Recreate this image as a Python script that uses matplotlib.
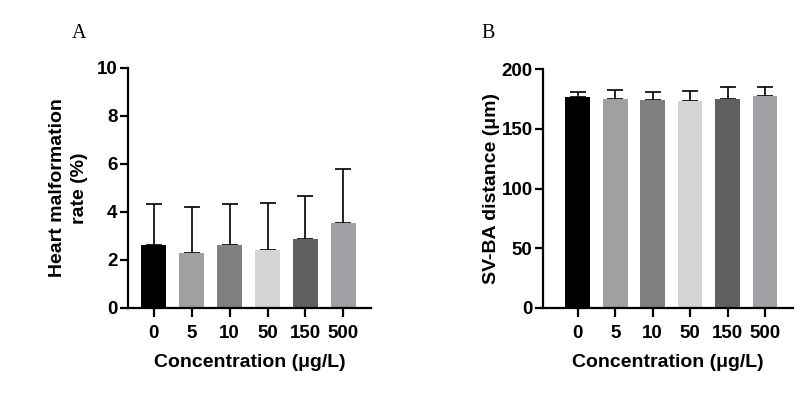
import matplotlib
matplotlib.use("Agg")
import matplotlib.pyplot as plt
import numpy as np

plt.rcParams['font.family'] = ['Liberation Sans', 'DejaVu Sans']

categories = ["0", "5", "10", "50", "150", "500"]
malform_mean = [2.63, 2.30, 2.63, 2.42, 2.86, 3.53]
malform_sd = [1.70, 1.90, 1.70, 1.97, 1.81, 2.26]
svba_mean = [176.8, 175.1, 174.0, 173.2, 174.6, 177.4]
svba_sd = [4.2, 7.6, 6.5, 8.1, 10.1, 7.8]
bar_colors = ["#000000", "#a0a0a0", "#7f7f7f", "#d4d4d4", "#606060", "#a0a0a5"]

W, H = 811, 395
fig = plt.figure(figsize=(W/100, H/100), dpi=100)

axA = fig.add_axes([128/W, 1-308/H, 243/W, 240/H])
axB = fig.add_axes([543/W, 1-308/H, 250/W, 239/H])

def style(ax, xlim, ylim, yticks):
    x = np.arange(len(categories))
    ax.set_xlim(*xlim)
    ax.set_ylim(*ylim)
    ax.set_yticks(yticks)
    ax.set_xticks(x)
    ax.set_xticklabels(categories)
    for s in ["top", "right"]:
        ax.spines[s].set_visible(False)
    for s in ["left", "bottom"]:
        ax.spines[s].set_linewidth(1.6)
    ax.tick_params(axis="both", width=1.6, labelsize=13.5)
    ax.tick_params(axis="y", length=6, pad=1.5)
    ax.tick_params(axis="x", length=6.5, pad=5.5)
    for lab in ax.get_xticklabels() + ax.get_yticklabels():
        lab.set_fontweight("bold")
    ax.set_xlabel("Concentration (μg/L)", fontsize=14, fontweight="bold", labelpad=9)

def draw(ax, mean, sd):
    x = np.arange(len(categories))
    ax.bar(x, mean, width=0.66, color=bar_colors, zorder=2)
    ax.errorbar(x, mean, yerr=[np.zeros(len(sd)), sd], fmt="none", ecolor="black",
                elinewidth=1.2, capsize=6, capthick=1.2, zorder=1)

draw(axA, malform_mean, malform_sd)
style(axA, (-0.68, 5.73), (0, 10), [0, 2, 4, 6, 8, 10])
axA.set_ylabel("Heart malformation\nrate (%)", fontsize=14, fontweight="bold",
               labelpad=6, linespacing=1.45)

draw(axB, svba_mean, svba_sd)
style(axB, (-0.93, 5.75), (0, 200), [0, 50, 100, 150, 200])
axB.set_ylabel("SV-BA distance (μm)", fontsize=14, fontweight="bold", labelpad=1)

fig.text(72/W, 1-38/H, "A", fontsize=14.5, family="Liberation Serif")
fig.text(481/W, 1-38/H, "B", fontsize=14.5, family="Liberation Serif")

fig.savefig("out.png", dpi=100)
